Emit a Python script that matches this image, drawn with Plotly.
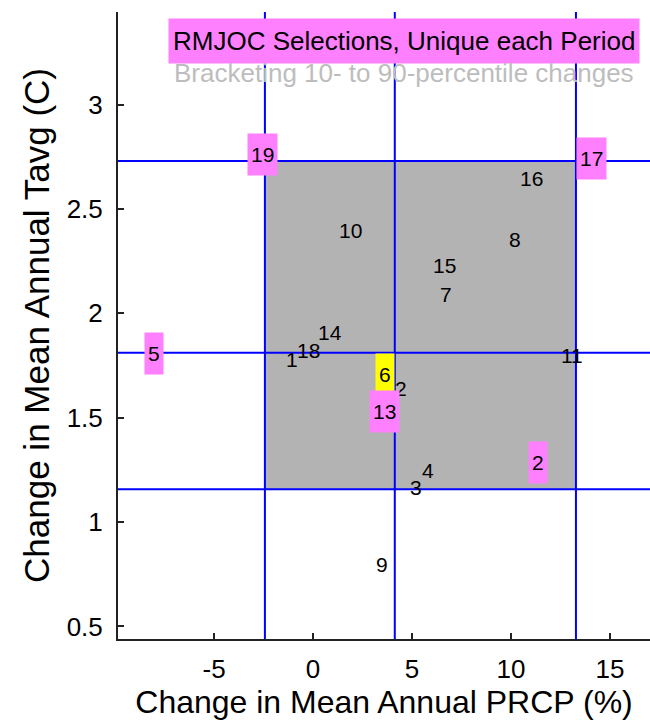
import plotly.graph_objects as go

# --- data ---
labels = ["19", "17", "16", "8", "15", "7", "10", "14", "18", "1",
          "6", "2", "13", "4", "3", "2", "9", "5", "11"]
prcp = [-2.53, 14.04, 11.01, 10.20, 6.62, 6.72, 1.87, 0.86, -0.22, -1.05,
        3.64, 4.44, 3.59, 5.81, 5.20, 11.36, 3.48, -8.03, 13.08]
tavg = [2.76, 2.74, 2.645, 2.353, 2.229, 2.09, 2.396, 1.908, 1.821, 1.778,
        1.706, 1.639, 1.529, 1.246, 1.165, 1.285, 0.796, 1.807, 1.797]
highlight = [None] * len(labels)
for i, c in [(0, "#ff80ff"), (1, "#ff80ff"), (10, "#ffff00"), (12, "#ff80ff"),
             (15, "#ff80ff"), (17, "#ff80ff")]:
    highlight[i] = c

prcp_lines = [-2.43, 4.13, 13.28]   # 10th, 50th, 90th percentile PRCP change
tavg_lines = [1.157, 1.811, 2.73]   # 10th, 50th, 90th percentile Tavg change

x_ticks = [-5, 0, 5, 10, 15]
x_ticktext = ["-5", "0", "5", "10", "15"]
y_ticks = [0.5, 1, 1.5, 2, 2.5, 3]
y_ticktext = ["0.5", "1", "1.5", "2", "2.5", "3"]

title1 = "RMJOC Selections, Unique each Period"
title2 = "Bracketing 10- to 90-percentile changes"

FONT = "Liberation Sans, Arial, sans-serif"

fig = go.Figure()

# bracket rectangle
fig.add_shape(type="rect", x0=prcp_lines[0], x1=prcp_lines[2],
              y0=tavg_lines[0], y1=tavg_lines[2],
              fillcolor="#b3b3b3", line=dict(width=0), layer="below")

for xv in prcp_lines:
    fig.add_vline(x=xv, line=dict(color="#0000ff", width=2))
for yv in tavg_lines:
    fig.add_hline(y=yv, line=dict(color="#0000ff", width=2))

# invisible trace to hold axes
fig.add_trace(go.Scatter(x=prcp, y=tavg, mode="markers",
                         marker=dict(opacity=0), hoverinfo="skip",
                         showlegend=False))

for lab, xv, yv, bg in zip(labels, prcp, tavg, highlight):
    kw = dict(x=xv, y=yv, xref="x", yref="y", text=lab, showarrow=False,
              xanchor="center", yanchor="middle",
              font=dict(family=FONT, size=21, color="#000000"))
    if bg:
        kw.update(bgcolor=bg, borderpad=3, height=35)
    fig.add_annotation(**kw)

fig.add_annotation(x=0.537, y=0.953, xref="paper", yref="paper",
                   text=title1, showarrow=False, xanchor="center",
                   yanchor="middle", bgcolor="#ff80ff", borderpad=4,
                   height=36,
                   font=dict(family=FONT, size=26, color="#000000"))
fig.add_annotation(x=0.537, y=0.903, xref="paper", yref="paper",
                   text=title2, showarrow=False, xanchor="center",
                   yanchor="middle",
                   font=dict(family=FONT, size=26, color="#bdbdbd"))

axis_common = dict(showgrid=False, zeroline=False, showline=True,
                   linecolor="#222222", linewidth=2, ticks="inside",
                   ticklen=6, tickwidth=1.5, tickcolor="#222222",
                   tickfont=dict(family=FONT, size=26, color="#000000"),
                   mirror=False, automargin=False)

fig.update_layout(
    width=650, height=724,
    margin=dict(l=118, r=0, t=12, b=85),
    paper_bgcolor="white", plot_bgcolor="white",
    xaxis=dict(range=[-9.85, 17.02], tickvals=x_ticks, ticktext=x_ticktext,
               title=dict(text="Change in Mean Annual PRCP (%)",
                          font=dict(family=FONT, size=32, color="#000000"),
                          standoff=6),
               ticklabelstandoff=6, **axis_common),
    yaxis=dict(range=[0.44, 3.444], tickvals=y_ticks, ticktext=y_ticktext,
               title=dict(text="Change in Mean Annual Tavg (C)",
                          font=dict(family=FONT, size=35, color="#000000"),
                          standoff=6),
               ticklabelstandoff=8, **axis_common),
)

fig.write_html(
    "out.html",
    config={"displayModeBar": False},
    post_script="document.body.style.margin='0';"
                "document.body.style.overflow='hidden';",
)
